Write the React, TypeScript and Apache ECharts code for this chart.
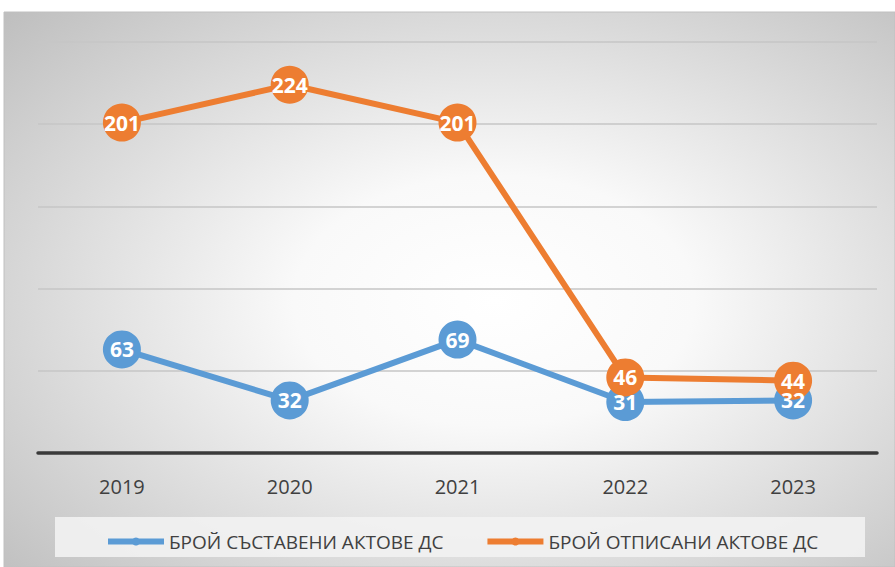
import React, { useEffect, useRef } from "react";
import * as echarts from "echarts";

const years = ["2019", "2020", "2021", "2022", "2023"];
const drafted = [63, 32, 69, 31, 32];
const written = [201, 224, 201, 46, 44];
const seriesNames = ["БРОЙ СЪСТАВЕНИ АКТОВЕ ДС", "БРОЙ ОТПИСАНИ АКТОВЕ ДС"];
const colors = ["#5B9BD5", "#ED7D31"];

export default function App() {
  const ref = useRef<HTMLDivElement>(null);
  useEffect(() => {
    const chart = echarts.init(ref.current!, null, { renderer: "svg" });
    const mk = (name: string, data: number[], color: string) => ({
      name,
      type: "line",
      data,
      symbol: "circle",
      symbolSize: 38,
      itemStyle: { color },
      lineStyle: { color, width: 6 },
      label: {
        show: true,
        position: "inside",
        color: "#ffffff",
        fontWeight: "bold",
        fontSize: 21,
        lineHeight: 18,
        fontFamily: "'Open Sans', Lato, sans-serif",
      },
      z: 3,
    });
    chart.setOption({
      animation: false,
      graphic: [
        {
          type: "rect",
          z: -10,
          shape: { x: 4, y: 12, width: 891, height: 555 },
          style: {
            fill: {
              type: "radial",
              x: 0.55,
              y: 0.52,
              r: 0.75,
              colorStops: [
                { offset: 0, color: "#ffffff" },
                { offset: 0.3, color: "#f9f9f9" },
                { offset: 1, color: "#bfbfbf" },
              ],
            },
            stroke: "#c0c0c0",
            lineWidth: 1,
          },
        },
        {
          type: "rect",
          z: -5,
          shape: { x: 55, y: 517, width: 810, height: 40 },
          style: { fill: "rgba(242,242,242,0.9)" },
        },
      ],
      grid: { left: 38, right: 18, top: 42, bottom: 114 },
      legend: {
        left: 100,
        top: 527,
        itemWidth: 56,
        itemHeight: 10,
        itemGap: 41,
        lineStyle: { width: 6 },
        textStyle: {
          color: "#404040",
          fontSize: 19,
          fontFamily: "'Open Sans', sans-serif",
        },
        data: seriesNames,
      },
      xAxis: {
        type: "category",
        data: years,
        axisLine: { lineStyle: { color: "#3a3a3a", width: 3.5 } },
        axisTick: { show: false },
        axisLabel: {
          color: "#404040",
          fontSize: 20,
          margin: 23,
          fontFamily: "'Open Sans', sans-serif",
        },
      },
      yAxis: {
        type: "value",
        min: 0,
        max: 250,
        interval: 50,
        axisLabel: { show: false },
        axisLine: { show: false },
        axisTick: { show: false },
        splitLine: { lineStyle: { color: "#c6c6c6", width: 1.5 } },
      },
      series: [mk(seriesNames[0], drafted, colors[0]), mk(seriesNames[1], written, colors[1])],
    });
    return () => chart.dispose();
  }, []);
  return (
    <div
      ref={ref}
      style={{ position: "absolute", left: 0, top: 0, width: 895, height: 567 }}
    />
  );
}
